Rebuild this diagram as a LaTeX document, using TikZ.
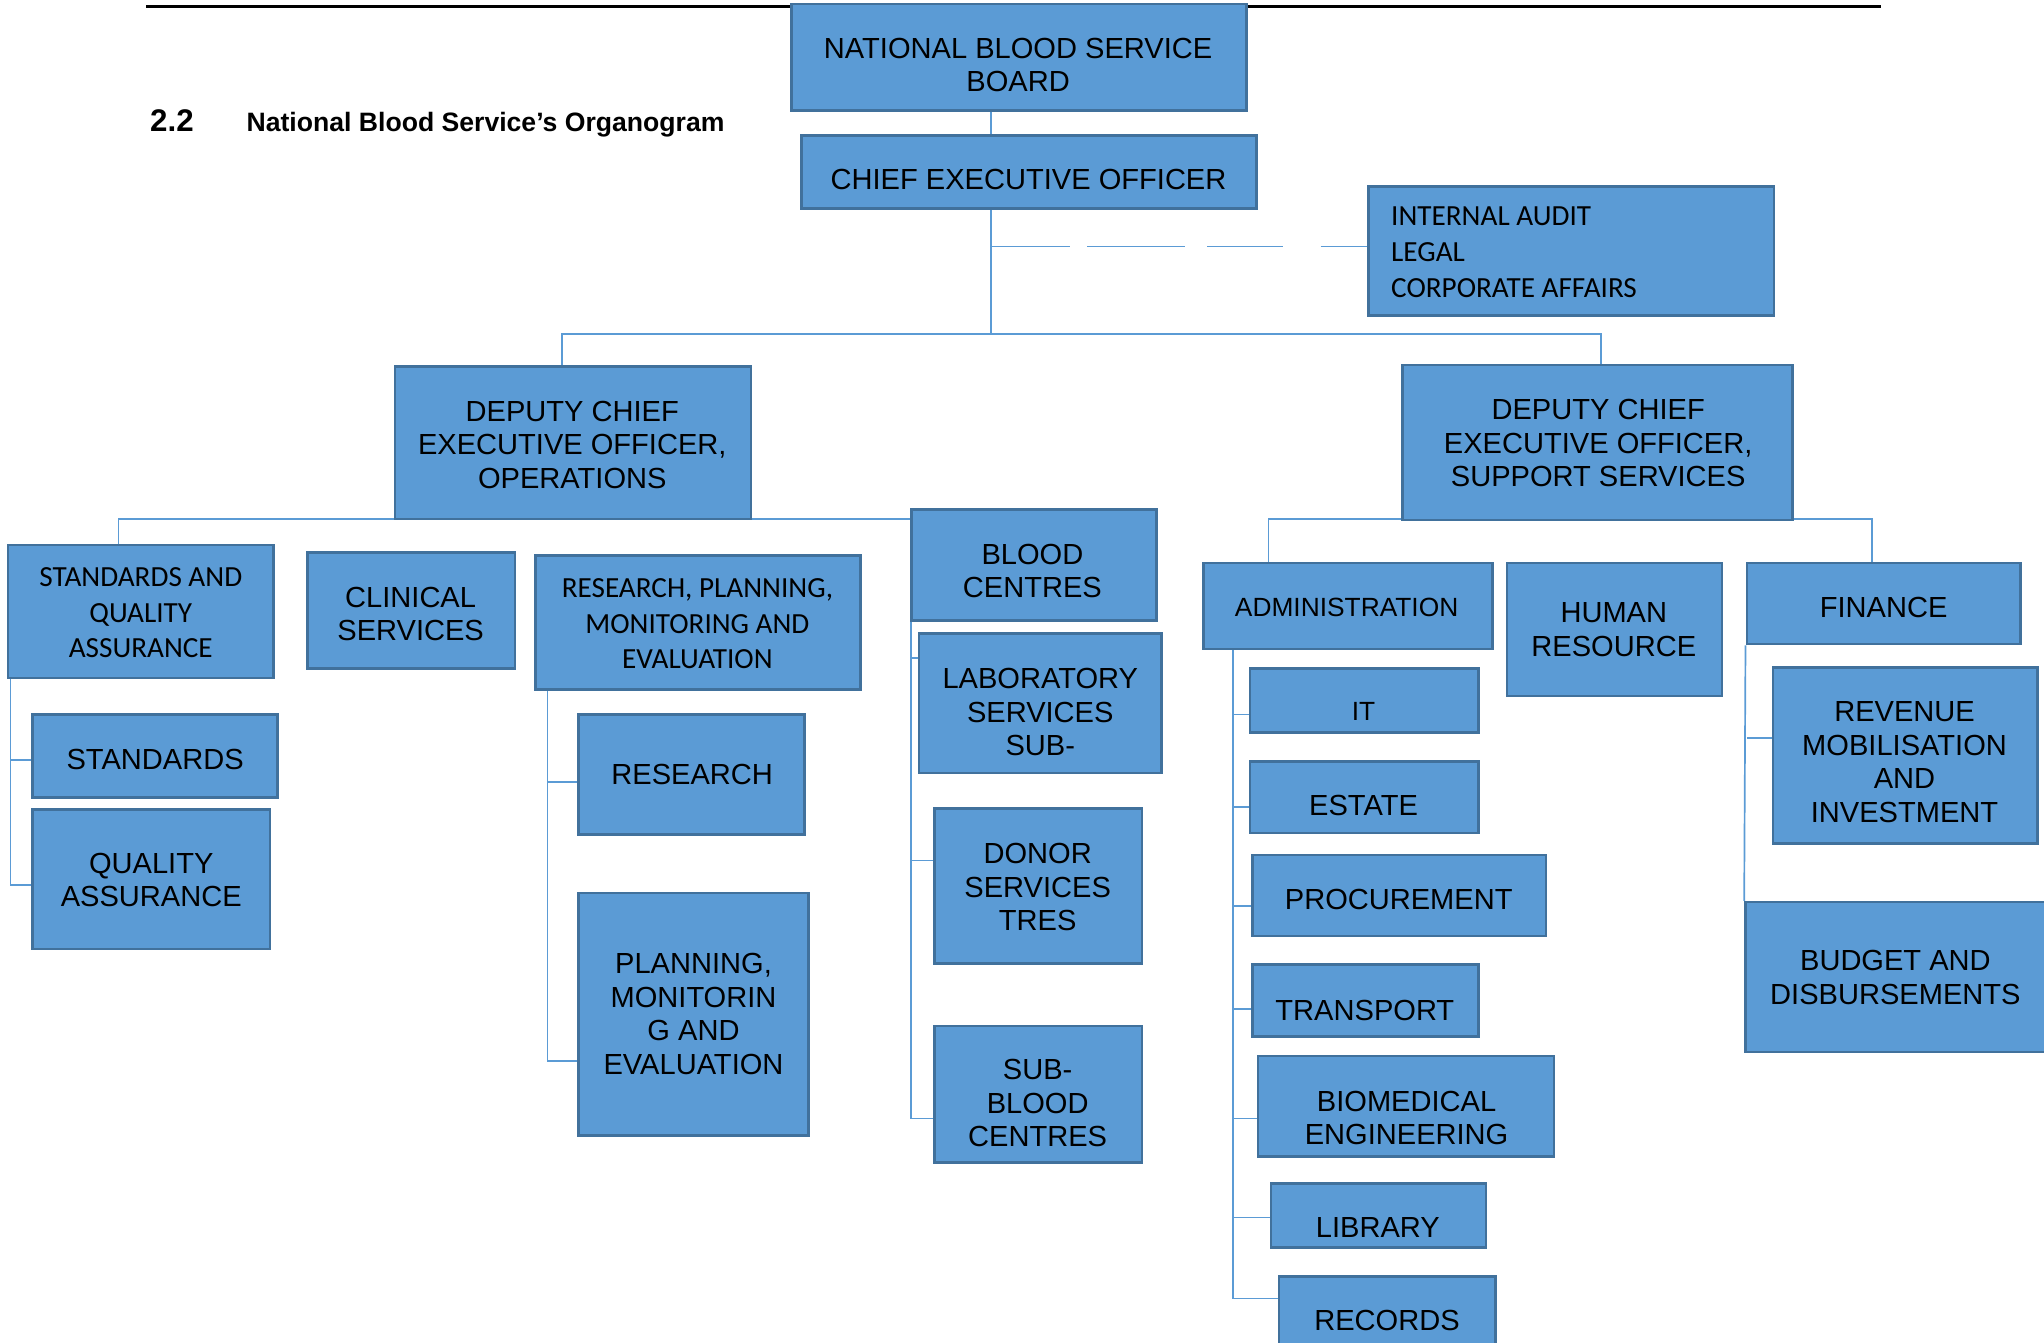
\documentclass[tikz,border=0pt]{standalone}
\usepackage{fontspec}
\setmainfont{Liberation Sans}
\newfontfamily\calfont{Carlito}
\definecolor{boxfill}{HTML}{5B9BD5}
\definecolor{boxline}{HTML}{41719C}
\definecolor{connc}{HTML}{5B9BD5}
\pgfdeclarelayer{background}
\pgfsetlayers{background,main}
\tikzset{
 box/.style={draw=boxline, fill=boxfill, line width=2pt, inner sep=0pt, rectangle},
 txt/.style={inner sep=0pt, align=center, font=\fontsize{22.3}{25.7}\selectfont},
 stxt/.style={inner sep=0pt, align=center, font=\fontsize{20.2}{24}\selectfont},
 ctxt/.style={inner sep=0pt, align=center, font=\calfont\fontsize{22.4}{27.4}\selectfont},
 link/.style={draw=connc, line width=1.3pt},
}
\begin{document}
\begin{tikzpicture}[x=1pt,y=-1pt]
\useasboundingbox (0,0) rectangle (1568,1030);
% header rule and title
\draw[line width=2pt] (112,5) -- (1443,5);
\node[anchor=base west, inner sep=0pt, font=\bfseries\fontsize{24}{28}\selectfont] (secnum) at (115,101) {2.2};
\node[anchor=base west, inner sep=0pt, font=\bfseries\fontsize{20.4}{24}\selectfont] (title) at (189,101) {National Blood Service’s Organogram};

% boxes
\node[box, minimum width=349pt, minimum height=82pt] (nbs) at (781.5,44) {};
\node[txt] (nbsT) at (781,50) {NATIONAL BLOOD SERVICE\\BOARD};
\node[box, minimum width=349pt, minimum height=56pt] (ceo) at (789.5,132) {};
\node[txt] (ceoT) at (789,138) {CHIEF EXECUTIVE OFFICER};
\node[box, minimum width=311pt, minimum height=99pt] (audit) at (1205.5,192.5) {};
\node[ctxt, align=left, anchor=west] (auditT) at (1067,193.5) {INTERNAL AUDIT\\LEGAL\\CORPORATE AFFAIRS};
\node[box, minimum width=273pt, minimum height=117pt] (dops) at (439.5,339.5) {};
\node[txt] (dopsT) at (439,341) {DEPUTY CHIEF\\EXECUTIVE OFFICER,\\OPERATIONS};
\node[box, minimum width=299pt, minimum height=119pt] (dsup) at (1225.5,339.5) {};
\node[txt] (dsupT) at (1226,340) {DEPUTY CHIEF\\EXECUTIVE OFFICER,\\SUPPORT SERVICES};

\node[box, minimum width=204pt, minimum height=102pt] (sqa) at (108,469) {};
\node[ctxt] (sqaT) at (108,470) {STANDARDS AND\\QUALITY\\ASSURANCE};
\node[box, minimum width=159pt, minimum height=89pt] (clin) at (315.5,468.5) {};
\node[txt] (clinT) at (315,471) {CLINICAL\\SERVICES};
\node[box, minimum width=249pt, minimum height=103pt] (rpme) at (535.5,477.5) {};
\node[ctxt] (rpmeT) at (535,478.5) {RESEARCH, PLANNING,\\MONITORING AND\\EVALUATION};
\node[box, minimum width=188pt, minimum height=85pt] (bc) at (793,433.5) {};
\node[txt] (bcT) at (792,438) {BLOOD\\CENTRES};
\node[box, minimum width=186pt, minimum height=107pt] (lab) at (798,539.5) {};
\node[txt] (labT) at (798,546.5) {LABORATORY\\SERVICES\\SUB-};
\node[box, minimum width=159pt, minimum height=119pt] (donor) at (796.5,679.5) {};
\node[txt] (donorT) at (796,680.5) {DONOR\\SERVICES\\TRES};
\node[box, minimum width=159pt, minimum height=105pt] (sbc) at (796.5,839.5) {};
\node[txt] (sbcT) at (796,846.5) {SUB-\\BLOOD\\CENTRES};

\node[box, minimum width=188pt, minimum height=64pt] (std) at (119,580) {};
\node[txt] (stdT) at (119,583) {STANDARDS};
\node[box, minimum width=182pt, minimum height=107pt] (qa) at (116,674.5) {};
\node[txt] (qaT) at (116,675) {QUALITY\\ASSURANCE};
\node[box, minimum width=173pt, minimum height=92pt] (res) at (530.5,594) {};
\node[txt] (resT) at (531,594) {RESEARCH};
\node[box, minimum width=176pt, minimum height=186pt] (pme) at (532,778) {};
\node[txt] (pmeT) at (532,778) {PLANNING,\\MONITORIN\\G AND\\EVALUATION};

\node[box, minimum width=222pt, minimum height=66pt] (adm) at (1034,465) {};
\node[stxt] (admT) at (1033,466) {ADMINISTRATION};
\node[box, minimum width=165pt, minimum height=102pt] (hr) at (1238.5,483) {};
\node[txt] (hrT) at (1238,483) {HUMAN\\RESOURCE};
\node[box, minimum width=210pt, minimum height=62pt] (fin) at (1445,463) {};
\node[txt] (finT) at (1445,466) {FINANCE};

\node[box, minimum width=175pt, minimum height=49pt] (it) at (1046.5,537.5) {};
\node[stxt] (itT) at (1046,546) {IT};
\node[box, minimum width=175pt, minimum height=55pt] (est) at (1046.5,611.5) {};
\node[txt] (estT) at (1046,618) {ESTATE};
\node[box, minimum width=225pt, minimum height=62pt] (proc) at (1073.5,687) {};
\node[txt] (procT) at (1073,690) {PROCUREMENT};
\node[box, minimum width=173pt, minimum height=55pt] (trans) at (1047.5,767.5) {};
\node[txt] (transT) at (1047,775) {TRANSPORT};
\node[box, minimum width=227pt, minimum height=77pt] (bio) at (1078.5,848.5) {};
\node[txt] (bioT) at (1079,857.5) {BIOMEDICAL\\ENGINEERING};
\node[box, minimum width=165pt, minimum height=49pt] (lib) at (1057.5,932.5) {};
\node[txt] (libT) at (1057,942) {LIBRARY};
\node[box, minimum width=166pt, minimum height=66pt] (rec) at (1064,1012) {};
\node[txt] (recT) at (1064,1013) {RECORDS};

\node[box, minimum width=203pt, minimum height=135pt] (rev) at (1461.5,579.5) {};
\node[txt] (revT) at (1461,584.5) {REVENUE\\MOBILISATION\\AND\\INVESTMENT};
\node[box, minimum width=241pt, minimum height=115pt] (bud) at (1459.5,749.5) {};
\node[txt] (budT) at (1454,750) {BUDGET AND\\DISBURSEMENTS};

% connectors
\begin{pgfonlayer}{background}
\coordinate (ceoJ) at (760,189);
\coordinate (topL) at (431,256);
\coordinate (topM) at (760,256);
\coordinate (topR) at (1228,256);
\draw[link] (nbs.south -| 760,0) -- (ceo.north -| 760,0);
\draw[link] (ceo.south -| 760,0) -- (topM);
\draw[link, dash pattern=on 61pt off 13pt on 75pt off 17pt on 58pt off 29pt on 38pt] (ceoJ) -- (audit.west |- ceoJ);
\draw[link] (dops.north -| topL) -- (topL) -- (topR) -- (dsup.north -| topR);

\coordinate (opL) at (91,398);
\coordinate (opR) at (699,398);
\draw[link] (sqa.north -| opL) -- (opL) -- (opR);
% standards & QA
\coordinate (sqaJ1) at (8,583);
\coordinate (sqaJ2) at (8,679);
\draw[link] (sqa.south -| sqaJ1) -- (sqaJ2) -- (qa.west |- sqaJ2);
\draw[link] (sqaJ1) -- (std.west |- sqaJ1);
% research
\coordinate (rJ1) at (420,600);
\coordinate (rJ2) at (420,814);
\draw[link] (rpme.south -| rJ1) -- (rJ2) -- (pme.west |- rJ2);
\draw[link] (rJ1) -- (res.west |- rJ1);
% blood centres
\coordinate (bJ1) at (699,505);
\coordinate (bJ2) at (699,660);
\coordinate (bJ3) at (699,858);
\draw[link] (opR) -- (bJ3) -- (sbc.west |- bJ3);
\draw[link] (bJ1) -- (lab.west |- bJ1);
\draw[link] (bJ2) -- (donor.west |- bJ2);
% support
\coordinate (sL) at (973,398);
\coordinate (sR) at (1436,398);
\draw[link] (adm.north -| sL) -- (sL) -- (sR) -- (fin.north -| sR);
% administration
\coordinate (aJ1) at (946,548);
\coordinate (aJ2) at (946,619);
\coordinate (aJ3) at (946,695);
\coordinate (aJ4) at (946,774);
\coordinate (aJ5) at (946,858);
\coordinate (aJ6) at (946,934);
\coordinate (aJ7) at (946,996);
\draw[link] (adm.south -| aJ1) -- (aJ7) -- (rec.west |- aJ7);
\draw[link] (aJ1) -- (it.west |- aJ1);
\draw[link] (aJ2) -- (est.west |- aJ2);
\draw[link] (aJ3) -- (proc.west |- aJ3);
\draw[link] (aJ4) -- (trans.west |- aJ4);
\draw[link] (aJ5) -- (bio.west |- aJ5);
\draw[link] (aJ6) -- (lib.west |- aJ6);
% finance
\coordinate (fJ1) at (1340,566);
\draw[link] (fin.south west) -- (bud.north west);
\draw[link] (fJ1) -- (rev.west |- fJ1);
\end{pgfonlayer}
\end{tikzpicture}
\end{document}
